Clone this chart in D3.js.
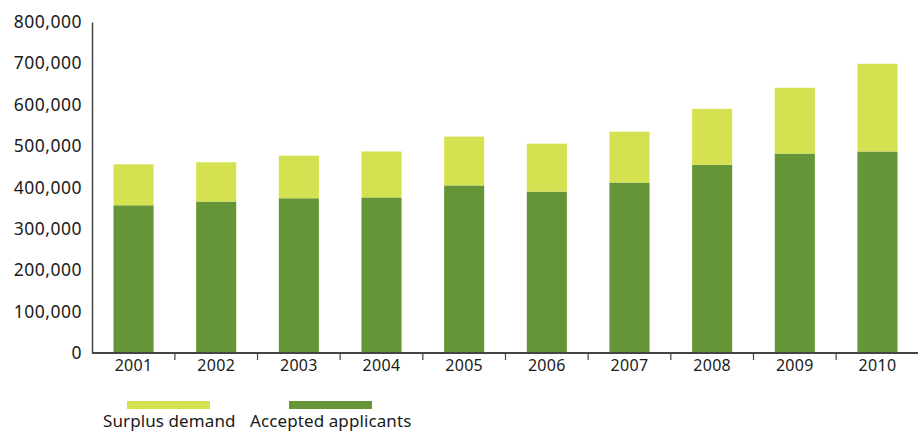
<!DOCTYPE html>
<html>
<head>
<meta charset="utf-8">
<script src="https://cdn.jsdelivr.net/npm/d3@7"></script>
<style>
  body { margin: 0; background: #fff; }
  svg text { font-family: "Noto Sans", "Open Sans", sans-serif; fill: #1a1a1a; }
</style>
</head>
<body>
<svg id="chart" width="918" height="432"></svg>
<script>
const years = ["2001", "2002", "2003", "2004", "2005", "2006", "2007", "2008", "2009", "2010"];
const accepted = [357000, 366000, 374000, 376000, 405000, 390000, 412000, 455000, 482000, 487000];
const totals = [456000, 461000, 477000, 487000, 523000, 506000, 535000, 590000, 641000, 699000];
const yTicks = [0, 100000, 200000, 300000, 400000, 500000, 600000, 700000, 800000];
const legendItems = ["Surplus demand", "Accepted applicants"];

const colors = { surplus: "#d4e150", accepted: "#669538", axis: "#444" };

const svg = d3.select("#chart");
const margin = { top: 22, right: 0, bottom: 79, left: 92 };
const width = 918, height = 432;

const x = d3.scaleBand()
    .domain(years)
    .range([margin.left, width + 1])
    .paddingInner(0.515)
    .paddingOuter(0.26);

const y = d3.scaleLinear()
    .domain([0, 800000])
    .range([height - margin.bottom, margin.top]);

const rows = years.map((yr, i) => ({ year: yr, accepted: accepted[i], surplus: totals[i] - accepted[i] }));
const stack = d3.stack().keys(["accepted", "surplus"])(rows);

svg.append("g")
    .selectAll("g")
    .data(stack)
    .join("g")
    .attr("fill", d => colors[d.key])
    .selectAll("rect")
    .data(d => d)
    .join("rect")
    .attr("x", d => x(d.data.year))
    .attr("y", d => y(d[1]))
    .attr("width", x.bandwidth())
    .attr("height", d => y(d[0]) - y(d[1]));

// y axis: line and labels only
const yAxis = svg.append("g")
    .attr("transform", `translate(${margin.left},0)`)
    .call(d3.axisLeft(y).tickValues(yTicks).tickSize(0).tickPadding(10).tickFormat(d3.format(",")));
yAxis.select(".domain").attr("stroke", colors.axis).attr("stroke-width", 1.5);
yAxis.selectAll("text")
    .attr("font-size", 17.5)
    .attr("letter-spacing", 0.5)
    .attr("dy", "0.32em");

// x axis: ticks at band boundaries
const x0 = y(0);
const xAxis = svg.append("g");
xAxis.append("line")
    .attr("x1", margin.left).attr("x2", width)
    .attr("y1", x0).attr("y2", x0)
    .attr("stroke", colors.axis).attr("stroke-width", 2);
xAxis.selectAll("line.tick")
    .data(years.slice(1))
    .join("line")
    .attr("class", "tick")
    .attr("x1", d => x(d) - x.step() * x.paddingInner() / 2)
    .attr("x2", d => x(d) - x.step() * x.paddingInner() / 2)
    .attr("y1", x0).attr("y2", x0 + 7)
    .attr("stroke", colors.axis).attr("stroke-width", 1.2);
xAxis.selectAll("text")
    .data(years)
    .join("text")
    .attr("x", d => x(d) + x.bandwidth() / 2)
    .attr("y", x0 + 18)
    .attr("text-anchor", "middle")
    .attr("font-size", 16)
    .attr("letter-spacing", 0.3)
    .text(d => d);

// legend
const legend = svg.append("g");
const legendX = [103, 250];
const swatchX = [127, 289];
legendItems.forEach((name, i) => {
    legend.append("rect")
        .attr("x", swatchX[i]).attr("y", 401)
        .attr("width", 83).attr("height", 8)
        .attr("fill", i === 0 ? colors.surplus : colors.accepted);
    legend.append("text")
        .attr("x", legendX[i]).attr("y", 427)
        .attr("font-size", 17)
        .attr("letter-spacing", 0.1)
        .text(name);
});
</script>
</body>
</html>
